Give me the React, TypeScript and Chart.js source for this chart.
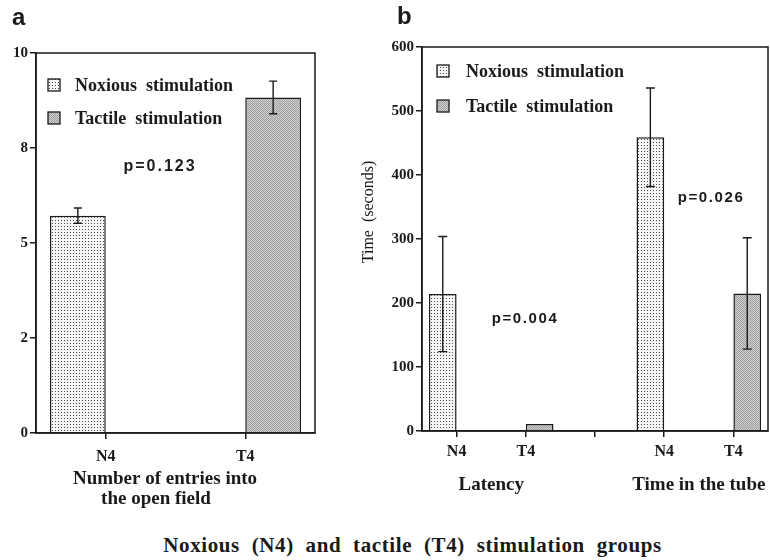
import React, { useEffect, useRef } from 'react';
import { Chart, registerables } from 'chart.js';

Chart.register(...registerables);

// ---------- data ----------
const seriesNames = ['Noxious  stimulation', 'Tactile  stimulation'];

const aCategories = ['N4', 'T4'];
const aNoxious = [5.72, null];
const aNoxiousErr = [0.2, null];
const aTactile = [null, 8.83];
const aTactileErr = [null, 0.43];
const aTickLabels = ['0', '2', '5', '8', '10'];
const aPValue = 'p=0.123';
const aXTitle = ['Number of entries into', 'the open field'];

const bCategories = ['N4', 'T4', '', 'N4', 'T4'];
const bNoxious = [214, null, null, 459, null];
const bNoxiousErr = [90, null, null, 77, null];
const bTactile = [null, 11, null, null, 215];
const bTactileErr = [null, null, null, null, 87];
const bGroups = ['Latency', 'Time in the tube'];
const bPValues = ['p=0.004', 'p=0.026'];
const bYTitle = 'Time  (seconds)';

const caption = 'Noxious (N4) and tactile (T4) stimulation groups';

// ---------- styling ----------
const SERIF = '"Liberation Serif", "Times New Roman", serif';
const SANS = '"Liberation Sans", Arial, sans-serif';
const INK = '#1a1a1a';

// fixed texture tiles (styling only)
const DOT_TILE = [
  ['#f6f6f6', '#f6f6f6', '#f6f6f6'],
  ['#f6f6f6', '#4a4a4a', '#f6f6f6'],
  ['#f6f6f6', '#f6f6f6', '#f6f6f6'],
];
const GRAY_TILE = [
  ['#9a9a9a', '#d4d4d4', '#a4a4a4', '#d0d0d0'],
  ['#cccccc', '#a0a0a0', '#d6d6d6', '#9c9c9c'],
  ['#a6a6a6', '#d2d2d2', '#989898', '#cecece'],
  ['#d0d0d0', '#9e9e9e', '#cacaca', '#a2a2a2'],
];

function makePattern(tile: string[][]) {
  const c = document.createElement('canvas');
  c.width = tile[0].length; c.height = tile.length;
  const x = c.getContext('2d')!;
  tile.forEach((row, r) => row.forEach((col, k) => { x.fillStyle = col; x.fillRect(k, r, 1, 1); }));
  return x.createPattern(c, 'repeat')!;
}

type TextItem = {
  text: string; x: number; y: number; font: string; align?: CanvasTextAlign;
  rotate?: boolean; spacing?: number;
};

function extrasPlugin(cfg: {
  errors: (number | null)[][];
  capW: number;
  legend: { x: number; y: number; textX: number; fills: any[] }[];
  texts: TextItem[];
  groups?: { text: string; i0: number; i1: number; y: number; font: string }[];
}) {
  return {
    id: 'extras',
    afterDatasetsDraw(chart: any) {
      const ctx = chart.ctx;
      const ys = chart.scales.y;
      ctx.save();
      ctx.strokeStyle = INK;
      ctx.lineWidth = 1.4;
      cfg.errors.forEach((errs, di) => {
        const meta = chart.getDatasetMeta(di);
        const vals = chart.data.datasets[di].data;
        errs.forEach((e, j) => {
          if (e == null || vals[j] == null) return;
          const x = meta.data[j].x;
          const t = ys.getPixelForValue(vals[j] + e);
          const b = ys.getPixelForValue(vals[j] - e);
          ctx.beginPath();
          ctx.moveTo(x, t); ctx.lineTo(x, b);
          ctx.moveTo(x - cfg.capW / 2, t); ctx.lineTo(x + cfg.capW / 2, t);
          ctx.moveTo(x - cfg.capW / 2, b); ctx.lineTo(x + cfg.capW / 2, b);
          ctx.stroke();
        });
      });
      ctx.restore();
    },
    afterDraw(chart: any) {
      const ctx = chart.ctx;
      const a = chart.chartArea;
      ctx.save();
      ctx.strokeStyle = INK;
      ctx.lineWidth = 1.5;
      ctx.strokeRect(a.left, a.top, a.right - a.left, a.bottom - a.top);
      // legend
      cfg.legend.forEach((l) => {
        ctx.fillStyle = l.fills[0];
        ctx.fillRect(l.x - 6, l.y - 6, 12, 12);
        ctx.lineWidth = 1.3;
        ctx.strokeRect(l.x - 6, l.y - 6, 12, 12);
      });
      ctx.fillStyle = INK;
      ctx.textBaseline = 'middle';
      ctx.font = `bold 18px ${SERIF}`;
      ctx.textAlign = 'left';
      cfg.legend.forEach((l, i) => {
        ctx.fillText(seriesNames[i], l.textX, l.y + 1);
      });
      cfg.texts.forEach((t) => {
        ctx.save();
        ctx.font = t.font;
        ctx.textAlign = t.align || 'center';
        ctx.textBaseline = 'middle';
        (ctx as any).letterSpacing = (t.spacing || 0) + 'px';
        ctx.translate(t.x, t.y);
        if (t.rotate) ctx.rotate(-Math.PI / 2);
        ctx.fillText(t.text, 0, 0);
        ctx.restore();
      });
      (cfg.groups || []).forEach((g) => {
        const xs = chart.scales.x;
        const cx = (xs.getPixelForValue(g.i0) + xs.getPixelForValue(g.i1)) / 2;
        ctx.font = g.font;
        ctx.textAlign = 'center';
        ctx.fillText(g.text, cx, g.y);
      });
      ctx.restore();
    },
  };
}

function axisCommon(size: number) {
  return {
    grid: { display: true, drawOnChartArea: false, offset: false, tickLength: 6, color: INK, lineWidth: 1.5 },
    border: { display: true, color: INK, width: 1.5 },
    ticks: { color: INK, font: { family: SERIF, size, weight: 'bold' } },
  };
}

export default function App() {
  const refA = useRef<HTMLCanvasElement>(null);
  const refB = useRef<HTMLCanvasElement>(null);

  useEffect(() => {
    const dots = makePattern(DOT_TILE);
    const gray = makePattern(GRAY_TILE);
    const barStyle = { borderColor: INK, borderWidth: 1.5, categoryPercentage: 0.8, barPercentage: 1.0 };

    const ca = axisCommon(16);
    const ya = axisCommon(15);
    const chartA = new Chart(refA.current!, {
      type: 'bar',
      data: {
        labels: aCategories,
        datasets: [
          { label: seriesNames[0], data: aNoxious, backgroundColor: dots, ...barStyle },
          { label: seriesNames[1], data: aTactile, backgroundColor: gray, ...barStyle },
        ],
      },
      options: {
        responsive: false,
        animation: false,
        layout: { padding: { left: 0, top: 53, right: 30, bottom: 47 } },
        plugins: { legend: { display: false }, tooltip: { enabled: false } },
        scales: {
          x: { ...ca, ticks: { ...ca.ticks, padding: 8, autoSkip: false, maxRotation: 0 }, afterFit: (s: any) => { s.height = 40; } },
          y: {
            ...ya, min: 0, max: 10,
            ticks: { ...ya.ticks, stepSize: 2.5, padding: 2, callback: (_v: any, i: number) => aTickLabels[i] },
            afterFit: (s: any) => { s.width = 36; },
          },
        },
      } as any,
      plugins: [extrasPlugin({
        errors: [aNoxiousErr, aTactileErr],
        capW: 8,
        legend: [
          { x: 54, y: 85, textX: 75, fills: [dots] },
          { x: 54, y: 118, textX: 75, fills: [gray] },
        ],
        texts: [
          { text: 'a', x: 12, y: 18, font: `bold 24px ${SANS}`, align: 'left' },
          { text: aPValue, x: 160, y: 167, font: `bold 16px ${SANS}`, spacing: 2 },
          { text: aXTitle[0], x: 165, y: 479, font: `bold 19px ${SERIF}` },
          { text: aXTitle[1], x: 156, y: 499, font: `bold 19px ${SERIF}` },
        ],
      }) as any],
    });

    const cb = axisCommon(16);
    const yb = axisCommon(15);
    const chartB = new Chart(refB.current!, {
      type: 'bar',
      data: {
        labels: bCategories,
        datasets: [
          { label: seriesNames[0], data: bNoxious, backgroundColor: dots, ...barStyle },
          { label: seriesNames[1], data: bTactile, backgroundColor: gray, ...barStyle },
        ],
      },
      options: {
        responsive: false,
        animation: false,
        layout: { padding: { left: 0, top: 47, right: 2, bottom: 49 } },
        plugins: { legend: { display: false }, tooltip: { enabled: false } },
        scales: {
          x: { ...cb, ticks: { ...cb.ticks, padding: 5, autoSkip: false, maxRotation: 0 }, afterFit: (s: any) => { s.height = 40; } },
          y: {
            ...yb, min: 0, max: 600,
            ticks: { ...yb.ticks, stepSize: 100, padding: 2 },
            afterFit: (s: any) => { s.width = 82; },
          },
        },
      } as any,
      plugins: [extrasPlugin({
        errors: [bNoxiousErr, bTactileErr],
        capW: 9,
        legend: [
          { x: 103, y: 71, textX: 126, fills: [dots] },
          { x: 103, y: 106, textX: 126, fills: [gray] },
        ],
        texts: [
          { text: 'b', x: 57, y: 17, font: `bold 24px ${SANS}`, align: 'left' },
          { text: bYTitle, x: 29, y: 212, font: `16px ${SERIF}`, rotate: true },
          { text: bPValues[0], x: 185, y: 319, font: `bold 15px ${SANS}`, spacing: 1.6 },
          { text: bPValues[1], x: 371, y: 198, font: `bold 15px ${SANS}`, spacing: 1.6 },
        ],
        groups: [
          { text: bGroups[0], i0: 0, i1: 1, y: 485, font: `bold 19px ${SERIF}` },
          { text: bGroups[1], i0: 3, i1: 4, y: 485, font: `bold 19px ${SERIF}` },
        ],
      }) as any],
    });

    return () => { chartA.destroy(); chartB.destroy(); };
  }, []);

  return (
    <div style={{ position: 'fixed', left: 0, top: 0, width: 770, height: 560, background: '#fff', overflow: 'hidden' }}>
      <canvas ref={refA} width={345} height={520} style={{ position: 'absolute', left: 0, top: 0 }} />
      <canvas ref={refB} width={430} height={520} style={{ position: 'absolute', left: 340, top: 0 }} />
      <div style={{
        position: 'absolute', left: 0, width: 825, top: 533, textAlign: 'center',
        font: `bold 21px ${SERIF}`, color: INK, wordSpacing: '6px', letterSpacing: '0.6px', whiteSpace: 'nowrap',
      }}>{caption}</div>
    </div>
  );
}
